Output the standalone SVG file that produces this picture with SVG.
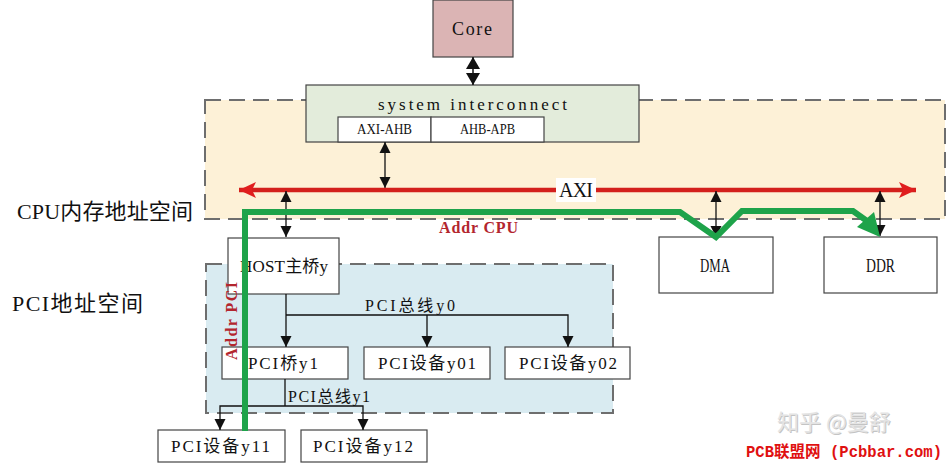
<svg xmlns="http://www.w3.org/2000/svg" width="948" height="465" viewBox="0 0 948 465">
<defs>
<style>
.box{fill:#fff;stroke:#444;stroke-width:1.2}
.t{font-family:"Liberation Serif","Noto Sans CJK SC",serif;fill:#111}
.lbl{font-family:"Liberation Serif","Noto Sans CJK SC",serif;fill:#111}
.ln{stroke:#111;stroke-width:1.3;fill:none}
.region{stroke:#6e6e6e;stroke-width:2;stroke-dasharray:16 8}
.red{font-family:"Liberation Serif",serif;font-weight:bold;fill:#b3262e}
</style>
<marker id="ah" markerUnits="userSpaceOnUse" markerWidth="12" markerHeight="12" refX="11" refY="6" orient="auto-start-reverse">
<path d="M0,0.5 L11,6 L0,11.5 z" fill="#111"/>
</marker>
<marker id="ahB" markerUnits="userSpaceOnUse" markerWidth="13" markerHeight="14" refX="12" refY="7" orient="auto-start-reverse">
<path d="M0,0 L12,7 L0,14 z" fill="#111"/>
</marker>
<marker id="ahR" markerUnits="userSpaceOnUse" markerWidth="18" markerHeight="18" refX="17" refY="9" orient="auto-start-reverse">
<path d="M0,1 L17,9 L0,17 L4,9 z" fill="#e01e1e"/>
</marker>
</defs>

<!-- regions -->
<g id="cpu-space">
<rect class="region" x="205" y="100" width="740" height="119" fill="#fdf1d7"/>
<text class="lbl" x="17" y="219" font-size="22" textLength="176" lengthAdjust="spacing">CPU内存地址空间</text>
</g>
<g id="pci-space">
<rect class="region" x="206" y="264" width="407" height="149" fill="#d9ebf1"/>
<text class="lbl" x="12" y="311" font-size="22" textLength="131" lengthAdjust="spacing">PCI地址空间</text>
</g>

<!-- nodes -->
<g id="core">
<rect x="433" y="0" width="80" height="57" fill="#dbb4b4" stroke="#444" stroke-width="1.2"/>
<text class="t" x="452" y="35" font-size="18" textLength="40" lengthAdjust="spacing">Core</text>
</g>
<g id="interconnect">
<rect x="306" y="85" width="333" height="57" fill="#e3ecdb" stroke="#444" stroke-width="1.2"/>
<text class="t" x="378" y="110" font-size="17" textLength="189" lengthAdjust="spacing">system interconnect</text>
</g>
<g id="axi-ahb">
<rect class="box" x="338" y="117" width="93" height="25"/>
<text class="t" x="357" y="134" font-size="15" textLength="55" lengthAdjust="spacingAndGlyphs">AXI-AHB</text>
</g>
<g id="ahb-apb">
<rect class="box" x="431" y="117" width="113" height="25"/>
<text class="t" x="460" y="134" font-size="15" textLength="55" lengthAdjust="spacingAndGlyphs">AHB-APB</text>
</g>
<g id="host">
<rect class="box" x="228" y="238" width="111" height="56"/>
<text class="t" x="240" y="272" font-size="17" textLength="88" lengthAdjust="spacing">HOST主桥y</text>
</g>
<g id="dma">
<rect class="box" x="659" y="237" width="114" height="56"/>
<text class="t" x="700" y="272" font-size="18" textLength="30" lengthAdjust="spacingAndGlyphs">DMA</text>
</g>
<g id="ddr">
<rect class="box" x="824" y="237" width="113" height="56"/>
<text class="t" x="866" y="272" font-size="18" textLength="29" lengthAdjust="spacingAndGlyphs">DDR</text>
</g>
<g id="pci-bridge-y1">
<rect class="box" x="222" y="347" width="126" height="32"/>
<text class="t" x="248" y="369" font-size="17" textLength="70" lengthAdjust="spacing">PCI桥y1</text>
</g>
<g id="pci-dev-y01">
<rect class="box" x="364" y="347" width="126" height="32"/>
<text class="t" x="378" y="369" font-size="17" textLength="98" lengthAdjust="spacing">PCI设备y01</text>
</g>
<g id="pci-dev-y02">
<rect class="box" x="505" y="347" width="125" height="32"/>
<text class="t" x="519" y="369" font-size="17" textLength="98" lengthAdjust="spacing">PCI设备y02</text>
</g>
<g id="pci-dev-y11">
<rect class="box" x="158" y="430" width="127" height="32"/>
<text class="t" x="171" y="452" font-size="17" textLength="99" lengthAdjust="spacing">PCI设备y11</text>
</g>
<g id="pci-dev-y12">
<rect class="box" x="301" y="430" width="126" height="32"/>
<text class="t" x="313" y="452" font-size="17" textLength="100" lengthAdjust="spacing">PCI设备y12</text>
</g>

<!-- connectors -->
<g id="connectors">
<line x1="473" y1="57" x2="473" y2="85" stroke="#111" stroke-width="1.5" marker-start="url(#ahB)" marker-end="url(#ahB)"/>
<line class="ln" x1="385" y1="142" x2="385" y2="188" marker-start="url(#ah)" marker-end="url(#ah)"/>
<!-- AXI bus -->
<line x1="239" y1="190" x2="916" y2="190" stroke="#d3201c" stroke-width="4.5" marker-start="url(#ahR)" marker-end="url(#ahR)"/>
<rect x="556" y="178" width="40" height="24" fill="#fff"/>
<text class="t" x="559" y="197" font-size="20" textLength="34" lengthAdjust="spacing">AXI</text>
<line class="ln" x1="286" y1="191" x2="286" y2="237" marker-start="url(#ah)" marker-end="url(#ah)"/>
<line class="ln" x1="716" y1="191" x2="716" y2="237" marker-start="url(#ah)" marker-end="url(#ah)"/>
<line class="ln" x1="880" y1="191" x2="880" y2="236" marker-start="url(#ah)" marker-end="url(#ah)"/>
<!-- PCI bus y0 -->
<line class="ln" x1="286" y1="294" x2="286" y2="347" marker-end="url(#ah)"/>
<polyline class="ln" points="286,315 568,315 568,347" marker-end="url(#ah)"/>
<line class="ln" x1="427" y1="315" x2="427" y2="347" marker-end="url(#ah)"/>
<text class="t" x="365" y="311" font-size="16" textLength="90" lengthAdjust="spacing">PCI总线y0</text>
<!-- PCI bus y1 -->
<line class="ln" x1="285" y1="379" x2="285" y2="406"/>
<polyline class="ln" points="220,430 220,406 363,406 363,430" marker-start="url(#ah)" marker-end="url(#ah)"/>
<text class="t" x="288" y="402" font-size="16" textLength="82" lengthAdjust="spacing">PCI总线y1</text>
<!-- green address path -->
<polyline points="245,431 245,212 680,212 716,237 742,211 853,211 867,221" fill="none" stroke="#1ea34a" stroke-width="6" stroke-linejoin="miter"/>
<polygon points="880,237 857,227 874,212" fill="#1ea34a"/>
<text class="red" x="439" y="233" font-size="16" textLength="79" lengthAdjust="spacing">Addr CPU</text>
<text class="red" transform="translate(237,360) rotate(-90)" font-size="16" textLength="78" lengthAdjust="spacing">Addr PCI</text>
</g>

<!-- watermark -->
<g id="watermark">
<text x="778" y="431" font-family="'Noto Sans CJK SC',sans-serif" font-size="22" fill="#8a8a8a" opacity="0.5">知乎 @曼舒</text>
<text x="777" y="430" font-family="'Noto Sans CJK SC',sans-serif" font-size="22" fill="#e4e4e4">知乎 @曼舒</text>
<text x="746" y="457" font-family="'Liberation Mono','Noto Sans CJK SC',monospace" font-size="16" font-weight="bold" fill="#e01010" textLength="196" lengthAdjust="spacingAndGlyphs">PCB联盟网 (Pcbbar.com)</text>
</g>
</svg>
